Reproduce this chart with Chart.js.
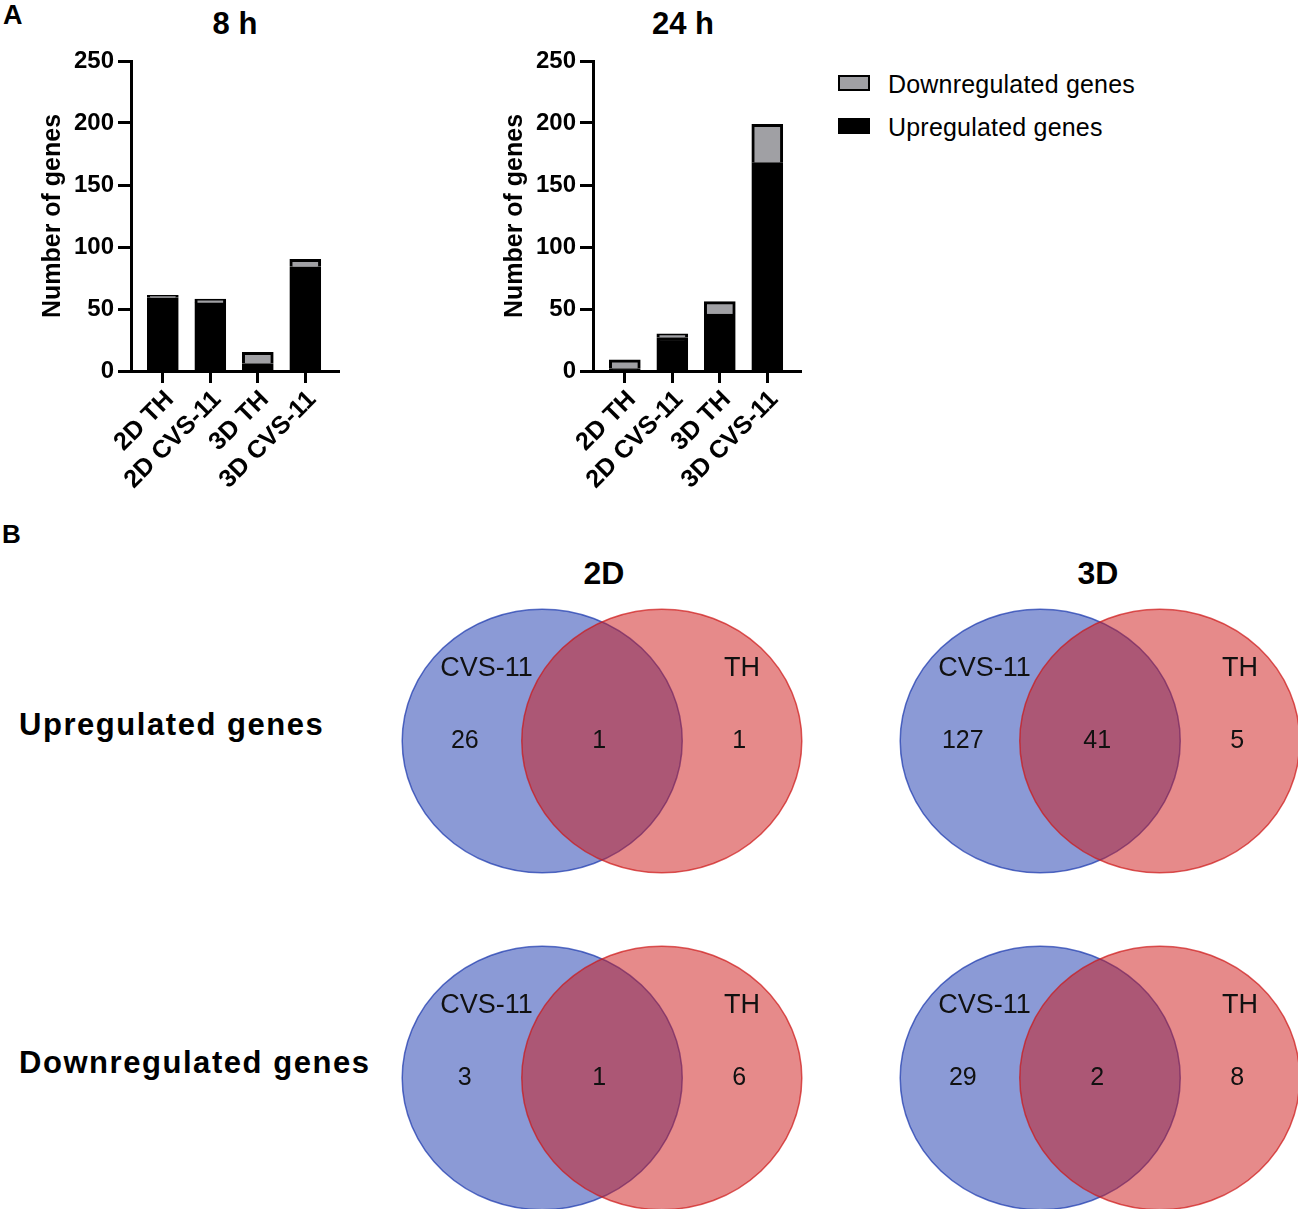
<!DOCTYPE html>
<html>
<head>
<meta charset="utf-8">
<script src="https://cdn.jsdelivr.net/npm/chart.js@4.4.1/dist/chart.umd.min.js"></script>
<style>
  html, body { margin: 0; padding: 0; background: #fff; overflow: hidden; }
  body { width: 1298px; height: 1209px; position: relative; font-family: "Liberation Sans", Arial, sans-serif; color: #000; }
  canvas { position: absolute; }
  .txt { position: absolute; white-space: nowrap; line-height: 1; }
  .bold { font-weight: bold; }
  .ctr { text-align: center; }
  .box { position: absolute; width: 28px; height: 12px; border: 2px solid #000; }
</style>
</head>
<body>
<div class="txt bold" style="left:3px;top:2px;font-size:27px;">A</div>
<div class="txt bold" style="left:2px;top:521px;font-size:26px;">B</div>

<div class="txt bold ctr" style="left:135px;width:200px;top:8px;font-size:31px;">8 h</div>
<div class="txt bold ctr" style="left:583px;width:200px;top:8px;font-size:31px;">24 h</div>

<canvas id="chart8h" width="360" height="500" style="left:0;top:0;"></canvas>
<canvas id="chart24h" width="360" height="500" style="left:462px;top:0;"></canvas>
<div id="legend"></div>

<div class="txt bold ctr" style="left:504px;width:200px;top:557px;font-size:32px;">2D</div>
<div class="txt bold ctr" style="left:998px;width:200px;top:557px;font-size:32px;">3D</div>
<div class="txt bold" style="left:19px;top:709px;font-size:31px;letter-spacing:1.55px;">Upregulated genes</div>
<div class="txt bold" style="left:19px;top:1047px;font-size:31px;letter-spacing:1.55px;">Downregulated genes</div>

<canvas id="venn2DUp" width="420" height="282" style="left:392px;top:600px;"></canvas>
<canvas id="venn3DUp" width="420" height="282" style="left:890px;top:600px;"></canvas>
<canvas id="venn2DDown" width="420" height="282" style="left:392px;top:937px;"></canvas>
<canvas id="venn3DDown" width="420" height="282" style="left:890px;top:937px;"></canvas>

<script>
// --- bar chart data (A) ---
const groups = ["2D TH", "2D CVS-11", "3D TH", "3D CVS-11"];
const up8h = [59, 55, 6, 84];
const down8h = [2, 3, 9, 6];
const up24h = [2, 27, 46, 168];
const down24h = [7, 3, 10, 31];
const yTicks = [0, 50, 100, 150, 200, 250];
const seriesNames = ["Upregulated genes", "Downregulated genes"];
const seriesColors = ["#000000", "#a0a0a4"];

// --- venn data (B): [only CVS-11, both, only TH] ---
const vennSets = ["CVS-11", "TH"];
const venn2DUp = [26, 1, 1];
const venn3DUp = [127, 41, 5];
const venn2DDown = [3, 1, 6];
const venn3DDown = [29, 2, 8];

const FONT = "'Liberation Sans', Arial, sans-serif";
Chart.defaults.font.family = FONT;
Chart.defaults.color = "#000";

function makeBarChart(id, up, down) {
  const series = [up, down];
  return new Chart(document.getElementById(id), {
    type: "bar",
    data: {
      datasets: series.map((vals, s) => ({
        label: seriesNames[s],
        data: vals.map((v, i) => ({ x: i, y: v })),
        backgroundColor: seriesColors[s],
        borderColor: "#000",
        borderWidth: 3,
        barThickness: 31,
      })),
    },
    options: {
      responsive: false,
      animation: false,
      layout: { padding: { top: 61, right: 21, left: 0, bottom: 0 } },
      plugins: { legend: { display: false }, tooltip: { enabled: false } },
      scales: {
        x: {
          type: "linear",
          stacked: true,
          min: -0.67,
          max: 3.71,
          offset: false,
          afterFit: (s) => { s.height = 129; },
          grid: { drawOnChartArea: false, drawTicks: true, tickLength: 12, tickWidth: 3, tickColor: "#000", offset: false },
          border: { color: "#000", width: 3 },
          ticks: {
            stepSize: 1,
            includeBounds: false,
            autoSkip: false,
            minRotation: 45,
            maxRotation: 45,
            padding: 2,
            labelOffset: 7,
            font: { size: 25, weight: "bold" },
            callback: (v) => groups[v] ?? "",
          },
        },
        y: {
          stacked: true,
          min: 0,
          max: 250,
          afterFit: (s) => { s.width = 131; },
          afterBuildTicks: (s) => { s.ticks = yTicks.map((v) => ({ value: v })); },
          grid: { drawOnChartArea: false, drawTicks: true, tickLength: 13, tickWidth: 3, tickColor: "#000" },
          border: { color: "#000", width: 3 },
          ticks: { padding: 4, font: { size: 24, weight: "bold" } },
          title: {
            display: true,
            text: "Number of genes",
            font: { size: 25, weight: "bold" },
            padding: { top: 38, bottom: 0 },
          },
        },
      },
    },
  });
}

makeBarChart("chart8h", up8h, down8h);
makeBarChart("chart24h", up24h, down24h);

// legend (downregulated listed first)
const legend = document.getElementById("legend");
[1, 0].forEach((s, row) => {
  const top = 75 + row * 43;
  const box = document.createElement("div");
  box.className = "box";
  box.style.left = "838px";
  box.style.top = top + "px";
  box.style.background = seriesColors[s];
  legend.appendChild(box);
  const t = document.createElement("div");
  t.className = "txt";
  t.style.left = "888px";
  t.style.top = (top - 3) + "px";
  t.style.fontSize = "25px";
  t.style.letterSpacing = "0.2px";
  t.textContent = seriesNames[s];
  legend.appendChild(t);
});

// venn layout: two unit circles, centres at +-0.427
const vennCircles = [
  { cx: -0.427, fill: "rgba(23,53,173,0.5)", stroke: "rgba(23,53,173,0.7)" },
  { cx: 0.427, fill: "rgba(205,21,21,0.5)", stroke: "rgba(205,21,21,0.7)" },
];
const regionX = [-0.98, -0.02, 0.98];
const setLabelPos = [{ x: -0.825, y: 0.55 }, { x: 1.0, y: 0.55 }];

const vennPlugin = {
  id: "vennDraw",
  beforeDatasetsDraw(chart) {
    const { ctx, scales: { x, y } } = chart;
    vennCircles.forEach((c) => {
      const px = x.getPixelForValue(c.cx);
      const py = y.getPixelForValue(0);
      const rx = x.getPixelForValue(c.cx + 1) - px;
      const ry = py - y.getPixelForValue(1);
      ctx.save();
      ctx.beginPath();
      ctx.ellipse(px, py, rx, ry, 0, 0, Math.PI * 2);
      ctx.fillStyle = c.fill;
      ctx.fill();
      ctx.lineWidth = 1.5;
      ctx.strokeStyle = c.stroke;
      ctx.stroke();
      ctx.restore();
    });
  },
  afterDatasetsDraw(chart) {
    const ctx = chart.ctx;
    chart.data.datasets.forEach((ds, di) => {
      chart.getDatasetMeta(di).data.forEach((pt, i) => {
        ctx.save();
        ctx.font = ds.textFont;
        ctx.fillStyle = "#111";
        ctx.textAlign = "center";
        ctx.textBaseline = "middle";
        ctx.fillText(ds.texts[i], pt.x, pt.y);
        ctx.restore();
      });
    });
  },
};

function makeVenn(id, counts) {
  return new Chart(document.getElementById(id), {
    type: "scatter",
    data: {
      datasets: [
        {
          data: counts.map((c, i) => ({ x: regionX[i], y: 0 })),
          texts: counts.map(String),
          textFont: "25px " + FONT,
          pointRadius: 0,
        },
        {
          data: setLabelPos,
          texts: vennSets,
          textFont: "27px " + FONT,
          pointRadius: 0,
        },
      ],
    },
    options: {
      responsive: false,
      animation: false,
      plugins: { legend: { display: false }, tooltip: { enabled: false } },
      scales: {
        x: { type: "linear", min: -1.5, max: 1.5, display: false },
        y: { type: "linear", min: -1.07, max: 1.07, display: false },
      },
    },
    plugins: [vennPlugin],
  });
}

makeVenn("venn2DUp", venn2DUp);
makeVenn("venn3DUp", venn3DUp);
makeVenn("venn2DDown", venn2DDown);
makeVenn("venn3DDown", venn3DDown);
</script>
</body>
</html>
